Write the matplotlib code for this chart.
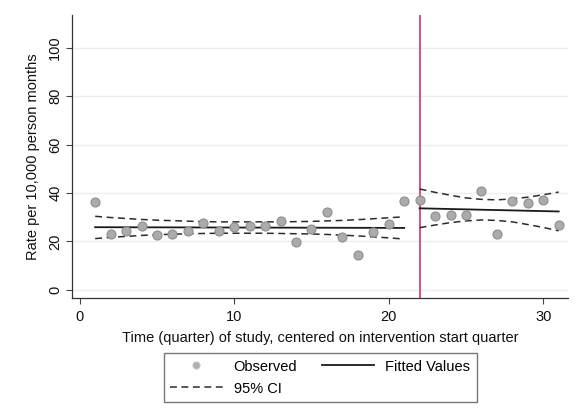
import matplotlib
matplotlib.use("Agg")
import matplotlib.pyplot as plt
from matplotlib.lines import Line2D

plt.rcParams['font.family'] = ['Liberation Sans', 'DejaVu Sans']

# Observed quarterly rates
quarters = list(range(1, 32))
observed = [36.2, 22.9, 24.4, 26.2, 22.6, 23.1, 24.4, 27.7, 24.4, 25.9,
            26.4, 26.6, 28.5, 19.6, 25.2, 32.2, 22.0, 14.6, 24.0, 27.4,
            36.8, 37.3, 30.4, 31.1, 30.8, 41.0, 22.9, 36.9, 35.7, 37.3, 26.9]

# Pre-intervention segment (quarters 1-21)
pre_x = list(range(1, 22))
pre_fit = [25.90, 25.88, 25.87, 25.85, 25.84, 25.82, 25.81, 25.79, 25.78, 25.76,
           25.75, 25.73, 25.72, 25.70, 25.69, 25.67, 25.66, 25.64, 25.63, 25.61, 25.60]
pre_hi = [30.4, 29.9, 29.5, 29.1, 28.8, 28.6, 28.4, 28.2, 28.1, 28.1,
          28.1, 28.1, 28.1, 28.2, 28.3, 28.5, 28.7, 29.0, 29.4, 29.8, 30.2]
pre_lo = [21.2, 21.7, 22.1, 22.5, 22.8, 23.0, 23.2, 23.3, 23.4, 23.4,
          23.4, 23.4, 23.3, 23.2, 23.1, 22.9, 22.6, 22.3, 21.9, 21.5, 21.0]

# Post-intervention segment (quarters 22-31)
post_x = list(range(22, 32))
post_fit = [33.70, 33.56, 33.41, 33.27, 33.12, 32.98, 32.84, 32.69, 32.55, 32.40]
post_hi = [41.7, 40.3, 39.1, 38.0, 37.4, 37.2, 37.6, 38.3, 39.3, 40.4]
post_lo = [25.7, 26.8, 27.8, 28.5, 28.9, 28.7, 28.1, 27.0, 25.8, 24.4]

intervention = 22
yticks = [0, 20, 40, 60, 80, 100]
xticks = [0, 10, 20, 30]

FS = 10.5

fig = plt.figure(figsize=(5.76, 4.16), dpi=100)
ax = fig.add_axes([0.125, 0.284, 0.861, 0.680])

for y in yticks:
    ax.axhline(y, color='#eaf0f0', lw=1.0, zorder=0)

ax.axvline(intervention, color='#d3365f', lw=1.2, zorder=1)

dash = (0, (4.5, 3))
for xs, fit, hi, lo in [(pre_x, pre_fit, pre_hi, pre_lo),
                        (post_x, post_fit, post_hi, post_lo)]:
    ax.plot(xs, hi, color='#2b2b2b', lw=1.1, linestyle=dash, zorder=3)
    ax.plot(xs, lo, color='#2b2b2b', lw=1.1, linestyle=dash, zorder=3)
    ax.plot(xs, fit, color='#1a1a1a', lw=1.3, zorder=3)

ax.plot(quarters, observed, linestyle='none', marker='o', ms=6.5,
        markerfacecolor='#ababab', markeredgecolor='#8e8e8e', mew=0.8, zorder=4)

ax.set_xlim(-0.5, 31.6)
ax.set_ylim(-3.3, 113.6)
ax.set_xticks(xticks)
ax.set_yticks(yticks)
for lab in ax.get_yticklabels():
    lab.set_rotation(90)
    lab.set_va('center')
ax.tick_params(axis='both', direction='out', length=4, width=0.8,
               color='#444444', labelsize=FS, labelcolor='#111111')
ax.tick_params(axis='x', pad=5)
ax.tick_params(axis='y', pad=3)
for side in ['top', 'right']:
    ax.spines[side].set_visible(False)
for side in ['left', 'bottom']:
    ax.spines[side].set_color('#333333')
    ax.spines[side].set_linewidth(0.9)

ax.set_xlabel('Time (quarter) of study, centered on intervention start quarter',
              fontsize=FS, color='#111111', labelpad=5)
ax.set_ylabel('Rate per 10,000 person months', fontsize=FS, color='#111111', labelpad=6)

handles = [
    Line2D([], [], linestyle='none', marker='o', ms=5, markerfacecolor='#b0b0b0',
           markeredgecolor='#c0c0c0', mew=0.8),
    Line2D([], [], color='#2b2b2b', lw=1.1, linestyle=dash),
    Line2D([], [], color='#1a1a1a', lw=1.3),
]
labels = ['Observed', '95% CI', 'Fitted Values']
leg = fig.legend(handles, labels, loc='center', bbox_to_anchor=(0.556, 0.0925),
                 ncol=2, fontsize=FS, frameon=True, fancybox=False,
                 edgecolor='#555555', handlelength=3.6, columnspacing=1.7,
                 labelspacing=0.55, borderpad=0.42, handletextpad=0.75,
                 borderaxespad=0)
leg.get_frame().set_linewidth(1.0)

fig.savefig('out.png', dpi=100)
